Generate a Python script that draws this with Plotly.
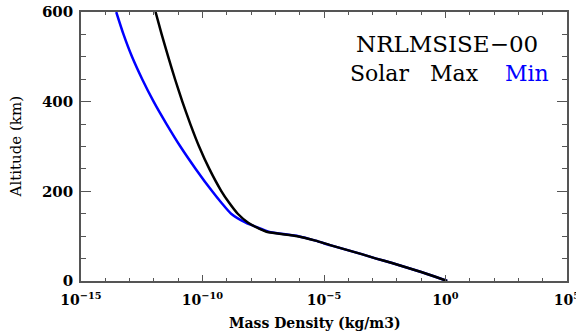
import plotly.graph_objects as go

# Solar max (black): altitude (km) and mass density (kg/m3)
alt_max = [600, 550, 500, 450, 400, 350, 300, 250, 200, 175, 150, 130, 120, 110, 100, 90, 80, 70, 60, 50, 40, 30, 20, 10, 0]
rho_max = [1.17e-12, 2.09e-12, 3.89e-12, 7.41e-12, 1.48e-11, 3.16e-11, 7.24e-11, 1.91e-10, 6.03e-10, 1.23e-9,
           2.82e-9, 7.59e-9, 1.62e-8, 4.27e-8, 7.94e-7, 4.47e-6, 1.78e-5, 7.94e-5, 3.55e-4, 1.41e-3,
           6.31e-3, 2.51e-2, 1.0e-1, 3.55e-1, 1.17]
# Solar min (blue)
alt_min = [600, 550, 500, 450, 400, 350, 300, 250, 200, 175, 150, 130, 120, 110, 100, 90, 80, 70, 60, 50, 40, 30, 20, 10, 0]
rho_min = [2.82e-14, 5.62e-14, 1.26e-13, 3.31e-13, 9.77e-13, 3.31e-12, 1.23e-11, 5.25e-11, 2.51e-10, 5.89e-10,
           1.51e-9, 6.03e-9, 1.70e-8, 5.25e-8, 8.91e-7, 4.47e-6, 1.78e-5, 7.94e-5, 3.55e-4, 1.41e-3,
           6.31e-3, 2.51e-2, 1.0e-1, 3.55e-1, 1.17]

x_major = [1e-15, 1e-10, 1e-5, 1e0, 1e5]
x_labels = ["10<sup>−15</sup>", "10<sup>−10</sup>", "10<sup>−5</sup>", "10<sup>0</sup>", "10<sup>5</sup>"]
x_minor = [10.0 ** e for e in range(-15, 6)]
y_major = [0, 200, 400, 600]
y_minor = list(range(0, 601, 50))

serif = "DejaVu Serif"
axis_col = "#555"

fig = go.Figure()
fig.add_trace(go.Scatter(x=rho_min, y=alt_min, mode="lines",
                         line=dict(color="#0000ff", width=2.5, shape="spline", smoothing=0.6)))
fig.add_trace(go.Scatter(x=rho_max, y=alt_max, mode="lines",
                         line=dict(color="black", width=2.5, shape="spline", smoothing=0.6)))

fig.update_layout(
    width=576, height=332,
    margin=dict(l=81, r=9, t=12, b=51),
    paper_bgcolor="white", plot_bgcolor="white",
    showlegend=False,
    font=dict(family=serif, color="black"),
    xaxis=dict(type="log", range=[-15, 5], tickvals=x_major, ticktext=x_labels,
               ticks="inside", ticklen=6, tickwidth=1, tickcolor=axis_col,
               minor=dict(tickvals=x_minor, ticks="inside", ticklen=3, tickcolor=axis_col),
               showline=True, linecolor=axis_col, linewidth=1.5, mirror="ticks",
               showgrid=False, zeroline=False, automargin=False, ticklabelstandoff=5,
               ticklabeloverflow="allow",
               tickfont=dict(size=14, family=serif, weight="bold")),
    yaxis=dict(range=[0, 600], tickvals=y_major,
               ticks="inside", ticklen=10, tickwidth=1, tickcolor=axis_col,
               minor=dict(tickvals=y_minor, ticks="inside", ticklen=5, tickcolor=axis_col),
               showline=True, linecolor=axis_col, linewidth=1.5, mirror="ticks",
               showgrid=False, zeroline=False, automargin=False, ticklabelstandoff=3,
               ticklabeloverflow="allow",
               tickfont=dict(size=15, family=serif, weight="bold")),
)

fig.add_annotation(x=0.481, y=-0.156, xref="paper", yref="paper", xanchor="center", yanchor="middle",
                   text="Mass Density (kg/m3)", showarrow=False,
                   font=dict(family=serif, size=14, weight="bold"))
fig.add_annotation(x=-0.134, y=0.5, xref="paper", yref="paper", xanchor="center", yanchor="middle",
                   text="Altitude (km)", showarrow=False, textangle=-90,
                   font=dict(family=serif, size=15))

fig.add_annotation(x=0.753, y=0.881, xref="paper", yref="paper", xanchor="center", yanchor="middle",
                   text="NRLMSISE−00", showarrow=False,
                   font=dict(family=serif, size=23, color="black"))
fig.add_annotation(x=0.615, y=0.770, xref="paper", yref="paper", xanchor="center", yanchor="middle",
                   text="Solar", showarrow=False, font=dict(family=serif, size=22, color="black"))
fig.add_annotation(x=0.7675, y=0.770, xref="paper", yref="paper", xanchor="center", yanchor="middle",
                   text="Max", showarrow=False, font=dict(family=serif, size=22, color="black"))
fig.add_annotation(x=0.918, y=0.770, xref="paper", yref="paper", xanchor="center", yanchor="middle",
                   text="Min", showarrow=False, font=dict(family=serif, size=22, color="#0000ff"))

fig.write_html("out.html", config={"displayModeBar": False},
               post_script="document.body.style.margin='0';document.body.style.padding='0';")
